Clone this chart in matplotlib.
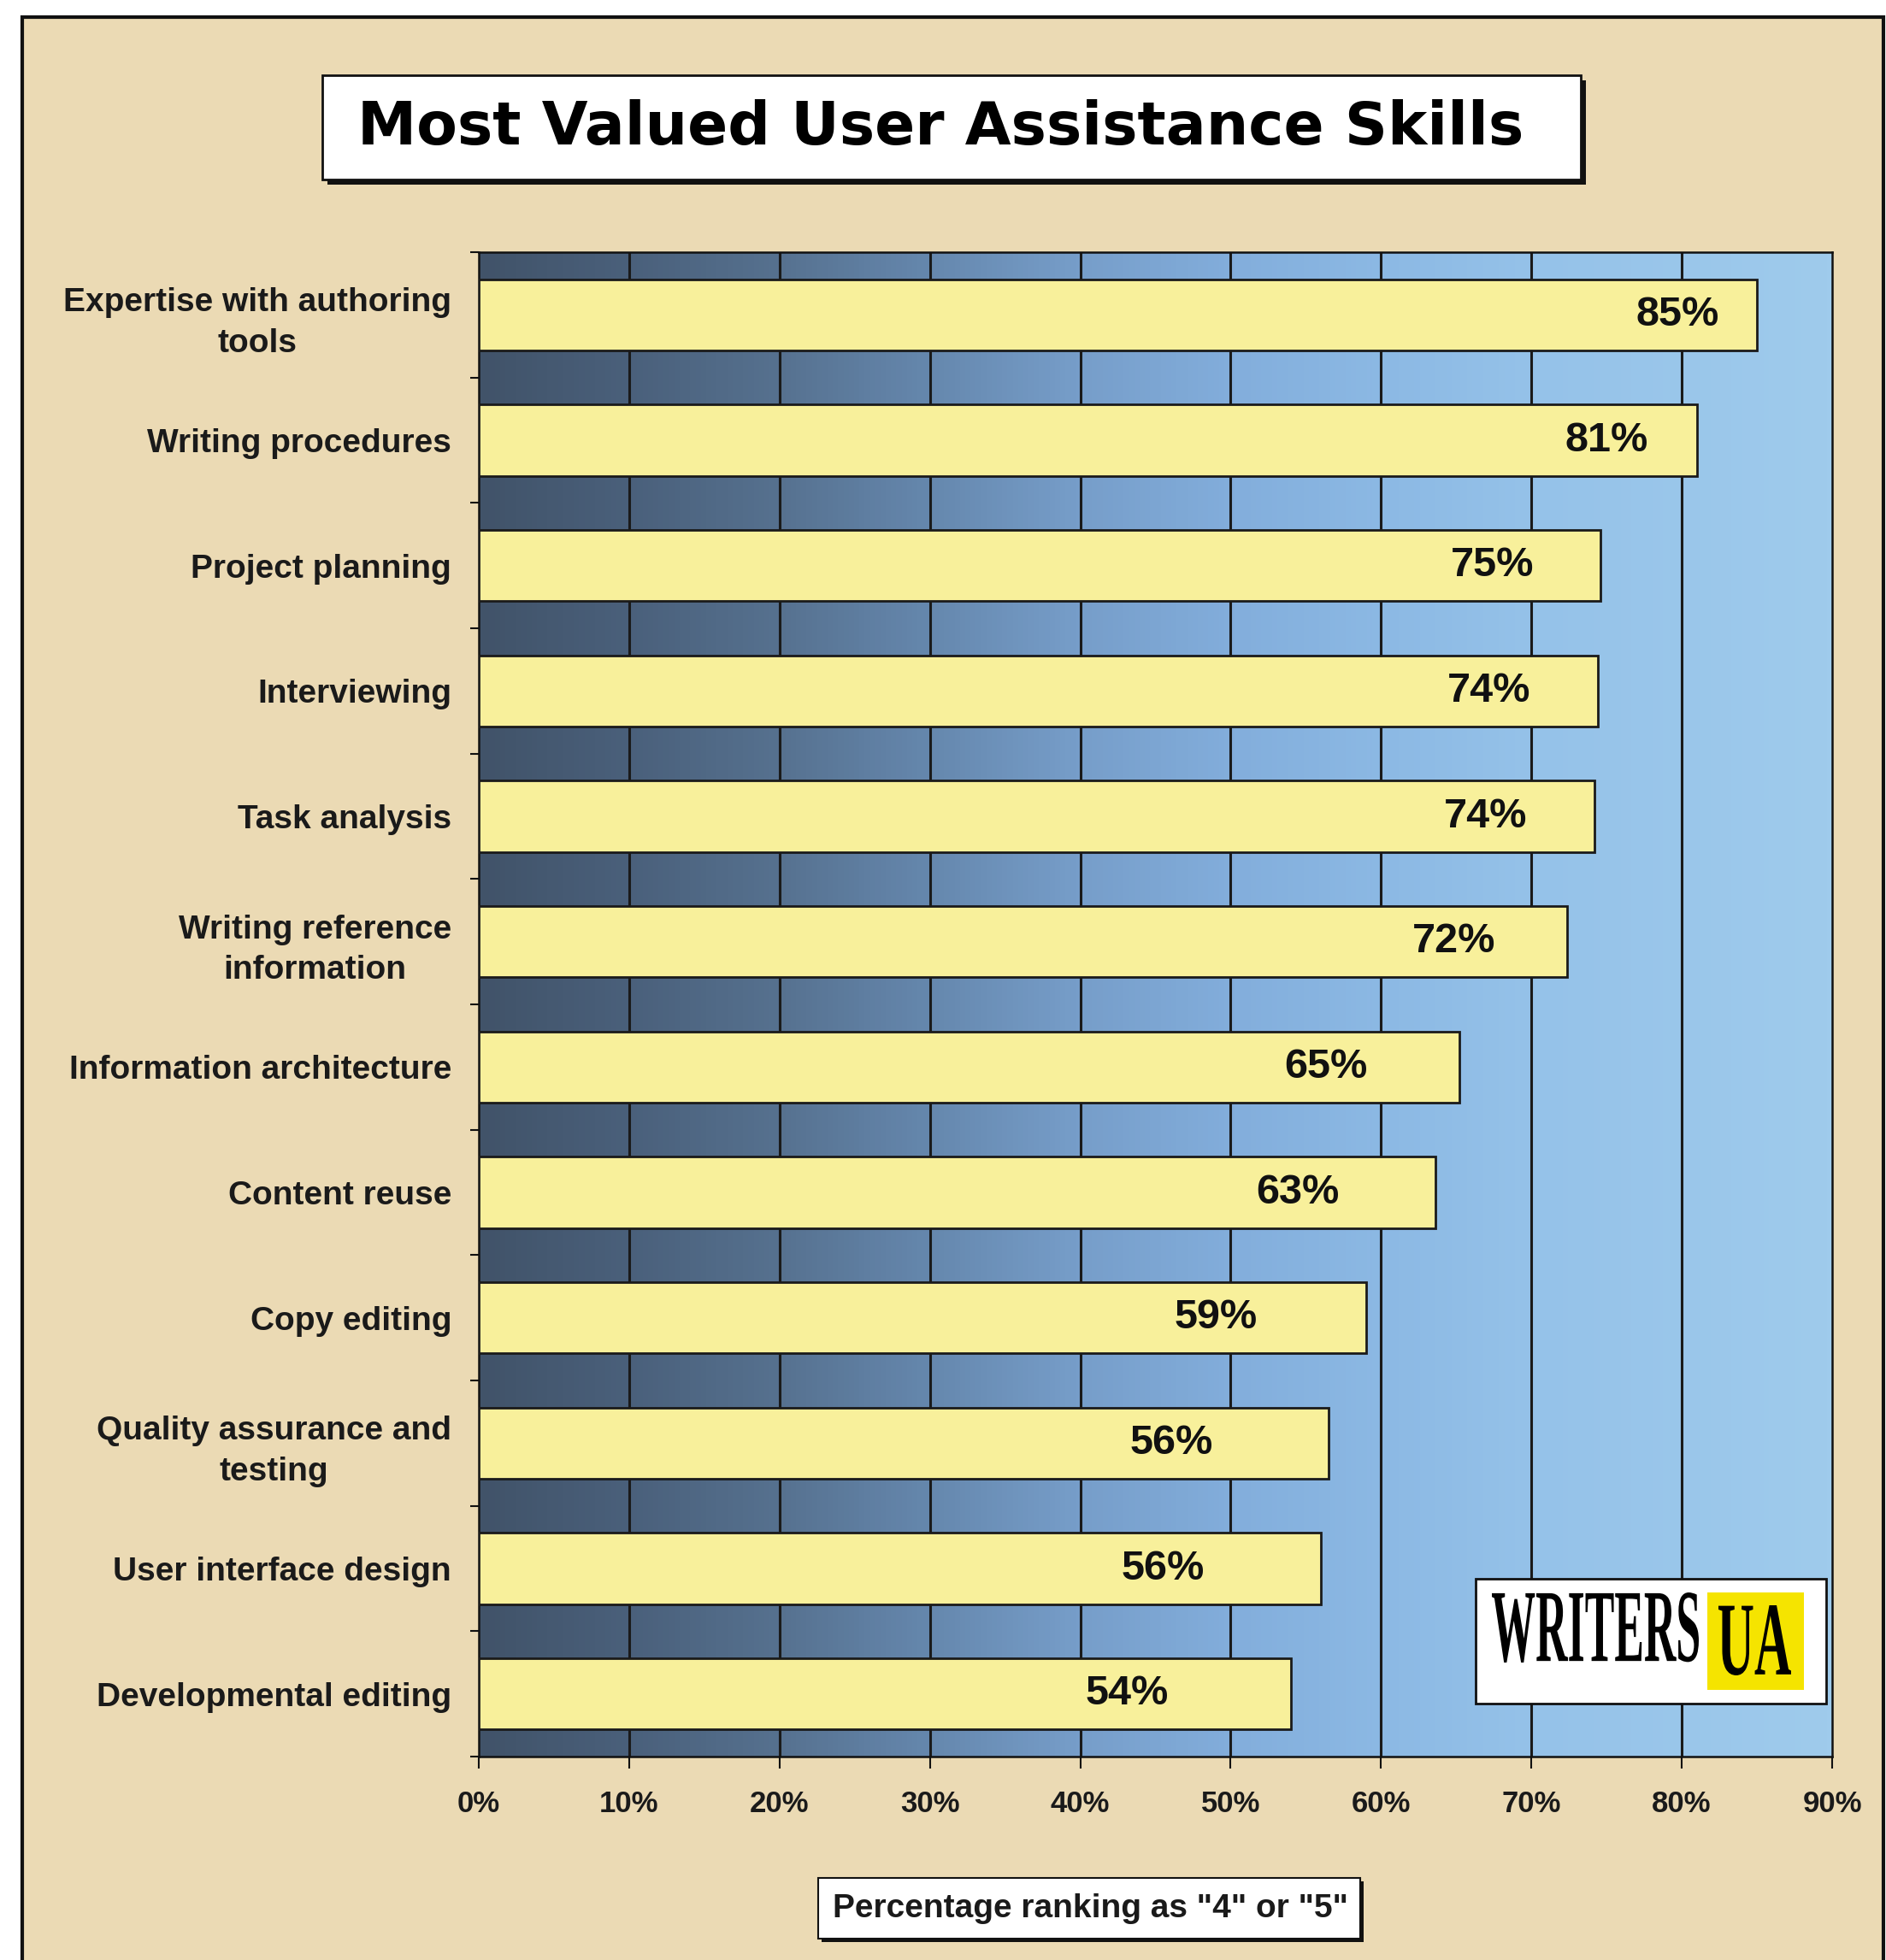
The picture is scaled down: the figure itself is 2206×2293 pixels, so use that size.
import matplotlib
matplotlib.use("Agg")
import matplotlib.pyplot as plt
import numpy as np
from matplotlib.colors import LinearSegmentedColormap
from matplotlib.patches import Rectangle, PathPatch
from matplotlib.textpath import TextPath
from matplotlib.font_manager import FontProperties
from matplotlib.transforms import Affine2D

# data
skills = ["Expertise with authoring\ntools", "Writing procedures", "Project planning",
          "Interviewing", "Task analysis", "Writing reference\ninformation",
          "Information architecture", "Content reuse", "Copy editing",
          "Quality assurance and\ntesting", "User interface design", "Developmental editing"]
percent = [85, 81, 74.6, 74.4, 74.2, 72.4, 65.2, 63.6, 59, 56.5, 56, 54]
percent_text = ["85%", "81%", "75%", "74%", "74%", "72%", "65%", "63%", "59%", "56%", "56%", "54%"]
xticks = [0, 10, 20, 30, 40, 50, 60, 70, 80, 90]
xtick_labels = ["0%", "10%", "20%", "30%", "40%", "50%", "60%", "70%", "80%", "90%"]

title = "Most Valued User Assistance Skills"
xlabel = 'Percentage ranking as "4" or "5"'

W, H = 2206, 2293
fig = plt.figure(figsize=(W / 100, H / 100), dpi=100)
fig.patch.set_facecolor("white")

SANS = "Liberation Sans"

# parchment background with black frame
bg = fig.add_axes([0, 0, 1, 1], zorder=-1)
bg.set_xlim(0, W); bg.set_ylim(H, 0); bg.axis("off")
bg.add_patch(Rectangle((26, 20), 2203 - 26, 2400, facecolor="#ebdab4", edgecolor="#111111", lw=3))

# main chart
ax = fig.add_axes([560 / W, 1 - 2055 / H, (2143 - 560) / W, (2055 - 295) / H], zorder=1)
n = len(skills)
y = np.arange(n)

grad = LinearSegmentedColormap.from_list("bluegrad", [
    (0.00, "#415369"), (0.11, "#4a607b"), (0.22, "#56718f"), (0.33, "#6587ad"),
    (0.44, "#769dc9"), (0.56, "#83aedc"), (0.67, "#8cb9e4"), (0.78, "#95c2e9"),
    (1.00, "#9fcbec")])
ax.imshow(np.linspace(0, 1, 256)[None, :], extent=[0, 90, n - 0.5, -0.5],
          cmap=grad, aspect="auto", zorder=0)
ax.vlines(xticks[1:-1], -0.5, n - 0.5, color="#1a1a1a", lw=2.2, zorder=1)

ax.barh(y, percent, height=0.57, color="#f8f09b", edgecolor="#1a1a1a", lw=2, zorder=3)
for i, (v, t) in enumerate(zip(percent, percent_text)):
    ax.text(1.18 * v - 20.6, i, t, ha="center", va="center", fontsize=35,
            fontweight="bold", family=SANS, color="#111111", zorder=4)

ax.set_xlim(0, 90)
ax.set_ylim(n - 0.5, -0.5)
ax.set_xticks(xticks)
ax.set_xticklabels(xtick_labels, fontsize=25, fontweight="bold", family=SANS, color="#1a1a1a")
ax.tick_params(axis="x", length=10, width=1.5, pad=18, color="#111111")

ax.set_yticks(np.arange(-0.5, n, 1.0))
ax.set_yticklabels([])
ax.set_yticks(y, minor=True)
ax.set_yticklabels(skills, minor=True, fontsize=28, fontweight="bold", family=SANS,
                   color="#1a1a1a", multialignment="center", linespacing=1.4)
ax.tick_params(axis="y", which="major", length=7, width=1.5, color="#111111")
ax.tick_params(axis="y", which="minor", length=0, pad=23)
for s in ax.spines.values():
    s.set_color("#111111")
    s.set_linewidth(1.8)

# overlay: title box, axis label box, logo
ov = fig.add_axes([0, 0, 1, 1], zorder=3)
ov.set_xlim(0, W); ov.set_ylim(H, 0); ov.axis("off")


def shadow_box(x0, y0, x1, y1, off, lw):
    ov.add_patch(Rectangle((x0 + off, y0 + off), x1 - x0, y1 - y0, facecolor="#111111", edgecolor="none"))
    ov.add_patch(Rectangle((x0, y0), x1 - x0, y1 - y0, facecolor="white", edgecolor="#111111", lw=lw))


def fit_text(s, x0, y0, x1, y1, color, family="Liberation Serif"):
    p = TextPath((0, 0), s, size=100, prop=FontProperties(family=family, weight="bold"))
    e = p.get_extents()
    tr = (Affine2D().translate(-e.x0, -e.y0)
          .scale((x1 - x0) / e.width, -(y1 - y0) / e.height).translate(x0, y1))
    ov.add_patch(PathPatch(tr.transform_path(p), facecolor=color, edgecolor="none"))


shadow_box(377, 88, 1849, 210, 6, 2)
ov.text(1100, 150, title, ha="center", va="center", fontsize=50, fontweight="bold",
        family="DejaVu Sans", color="black")

shadow_box(957, 2197, 1591, 2268, 4, 1.5)
ov.text(1276, 2233, xlabel, ha="center", va="center", fontsize=28, fontweight="bold",
        family=SANS, color="#1a1a1a")

ov.add_patch(Rectangle((1726, 1847), 410, 146, facecolor="white", edgecolor="#111111", lw=2))
fit_text("WRITERS", 1745, 1863, 1987, 1945, "black")
ov.add_patch(Rectangle((1997, 1863), 113, 114, facecolor="#f5e400", edgecolor="none"))
fit_text("UA", 2010, 1878, 2095, 1960, "black")

fig.savefig("out.png", dpi=100, facecolor=fig.get_facecolor())
